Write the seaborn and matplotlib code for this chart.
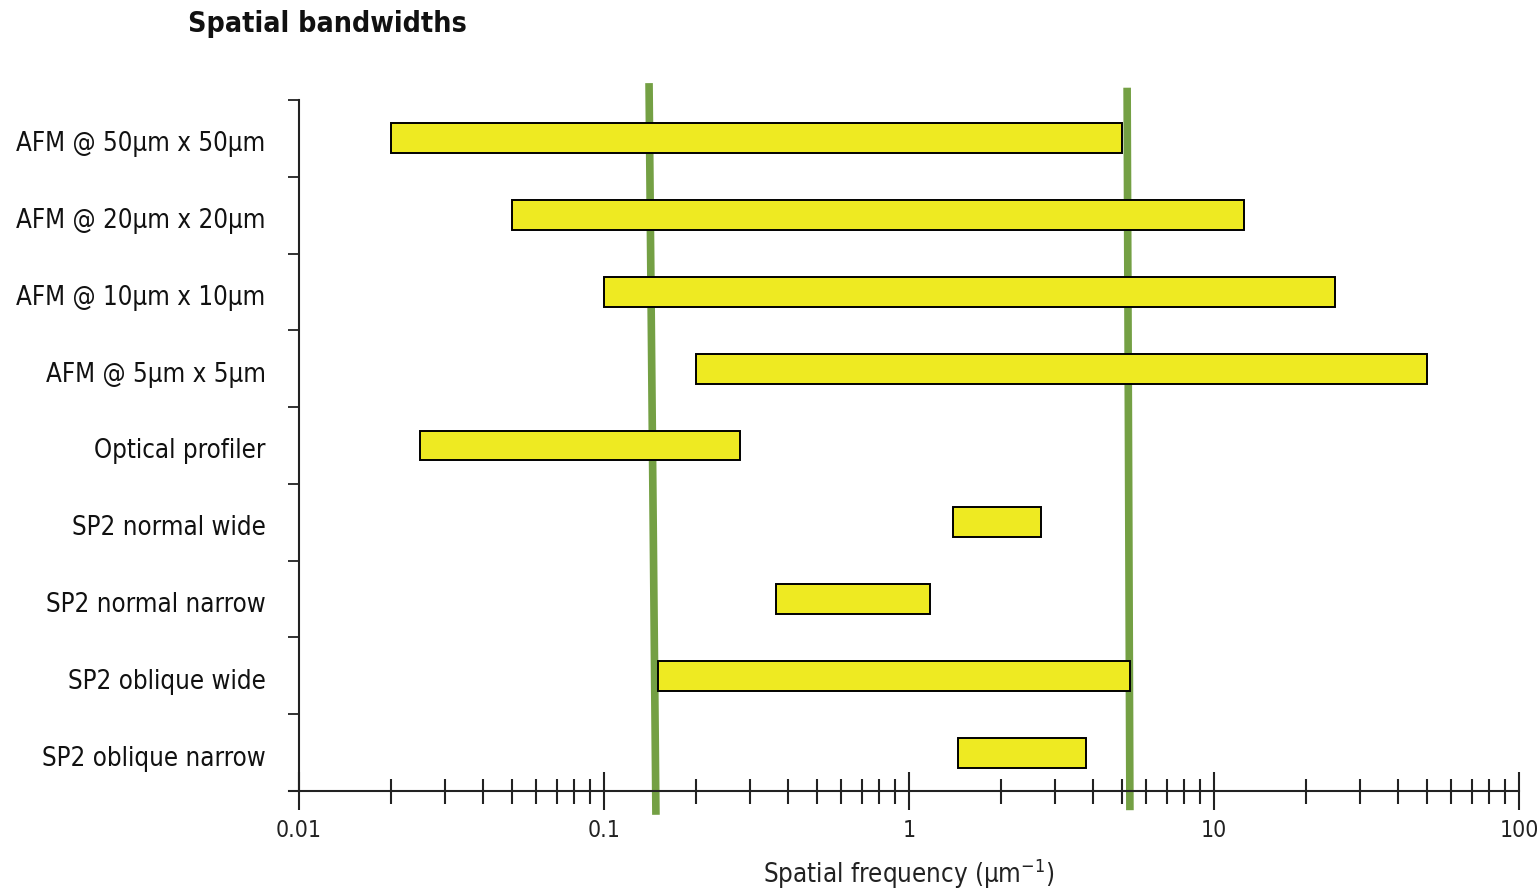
import numpy as np
import pandas as pd
import matplotlib
matplotlib.use("Agg")
import matplotlib.pyplot as plt
import matplotlib.transforms as mtransforms
from matplotlib import font_manager
from matplotlib.ticker import FixedLocator, NullFormatter, FuncFormatter
import seaborn as sns

# ---------------- data ----------------
instruments = [
    "AFM @ 50µm x 50µm",
    "AFM @ 20µm x 20µm",
    "AFM @ 10µm x 10µm",
    "AFM @ 5µm x 5µm",
    "Optical profiler",
    "SP2 normal wide",
    "SP2 normal narrow",
    "SP2 oblique wide",
    "SP2 oblique narrow",
]
low_freq = [0.02, 0.05, 0.1, 0.2, 0.025, 1.39, 0.366, 0.15, 1.45]
high_freq = [5.0, 12.5, 25.0, 50.0, 0.28, 2.7, 1.17, 5.3, 3.8]

# green reference lines (slightly slanted): x at top, x at bottom
ref_x_top = [0.1405, 5.19]
ref_x_bottom = [0.148, 5.30]
ref_y_top = [-0.72, -0.66]
ref_y_bottom = [8.81, 8.75]

x_major = [0.01, 0.1, 1, 10, 100]

# ---------------- style ----------------
sns.set_theme(style="ticks")
names = {f.name for f in font_manager.fontManager.ttflist}
if "Liberation Sans Narrow" in names:
    fam = ["Liberation Sans Narrow", "DejaVu Sans"]
    stretch = "normal"
else:
    fam = ["DejaVu Sans"]
    stretch = "condensed"
plt.rcParams["font.family"] = fam
plt.rcParams["font.stretch"] = stretch
plt.rcParams["mathtext.fontset"] = "custom"
plt.rcParams["mathtext.rm"] = fam[0]
plt.rcParams["mathtext.default"] = "regular"

yellow = "#EEEA22"
green = "#74A044"

df = pd.DataFrame({"instrument": instruments, "low": low_freq, "high": high_freq})

fig = plt.figure(figsize=(15.39, 8.91), dpi=100)
ax = fig.add_axes([299 / 1539, 1 - 791 / 891, (1519 - 299) / 1539, (791 - 100) / 891])

sns.barplot(data=df, x="high", y="instrument", orient="h", color=yellow,
            saturation=1, edgecolor="black", linewidth=1.4, width=0.39, ax=ax)
for patch, lo, hi in zip(ax.patches, df["low"], df["high"]):
    patch.set_x(lo)
    patch.set_width(hi - lo)
    patch.set_zorder(3)

ax.set_xscale("log")
ax.set_xlim(0.01, 100)
ax.set_ylim(len(instruments) - 0.5, -0.5)

for xt, xb, yt, yb in zip(ref_x_top, ref_x_bottom, ref_y_top, ref_y_bottom):
    ax.plot([xt, xb], [yt, yb], color=green, lw=5.5, solid_capstyle="butt",
            clip_on=False, zorder=2)

# spines
sns.despine(ax=ax, top=True, right=True)
for s in ("left", "bottom"):
    ax.spines[s].set_color("#222222")
    ax.spines[s].set_linewidth(1.5)
ax.spines["bottom"].set_bounds(0.0093, 100)

# x ticks
ax.xaxis.set_major_locator(FixedLocator(x_major))
ax.xaxis.set_major_formatter(FuncFormatter(lambda v, p: f"{v:g}"))
minors = [m * d for d in x_major[:-1] for m in range(2, 10)]
ax.xaxis.set_minor_locator(FixedLocator(minors))
ax.xaxis.set_minor_formatter(NullFormatter())
ax.tick_params(axis="x", which="major", direction="inout", length=27, width=1.5,
               color="#222222", labelsize=16.5, pad=7, labelcolor="#222222")
ax.tick_params(axis="x", which="minor", direction="inout", length=18, width=1.5,
               color="#222222")

# y ticks
ax.yaxis.set_minor_locator(FixedLocator(np.arange(-0.5, len(instruments), 1.0)))
ax.tick_params(axis="y", which="major", length=0, pad=24, labelsize=18.5,
               labelcolor="#111111")
ax.tick_params(axis="y", which="minor", direction="out", length=8, width=1.3,
               color="#222222")
shift = mtransforms.ScaledTranslation(0, -3 / 100, fig.dpi_scale_trans)
for lbl in ax.get_yticklabels():
    lbl.set_transform(lbl.get_transform() + shift)

ax.set_ylabel("")
ax.set_xlabel("Spatial frequency (µm$^{-1}$)", fontsize=18.5, labelpad=10,
              color="#222222")

fig.text(188 / 1539, 1 - 24 / 891, "Spatial bandwidths", fontsize=20.5,
         fontweight="bold", ha="left", va="center", color="#111111")

fig.savefig("out.png", dpi=100, facecolor="white")
